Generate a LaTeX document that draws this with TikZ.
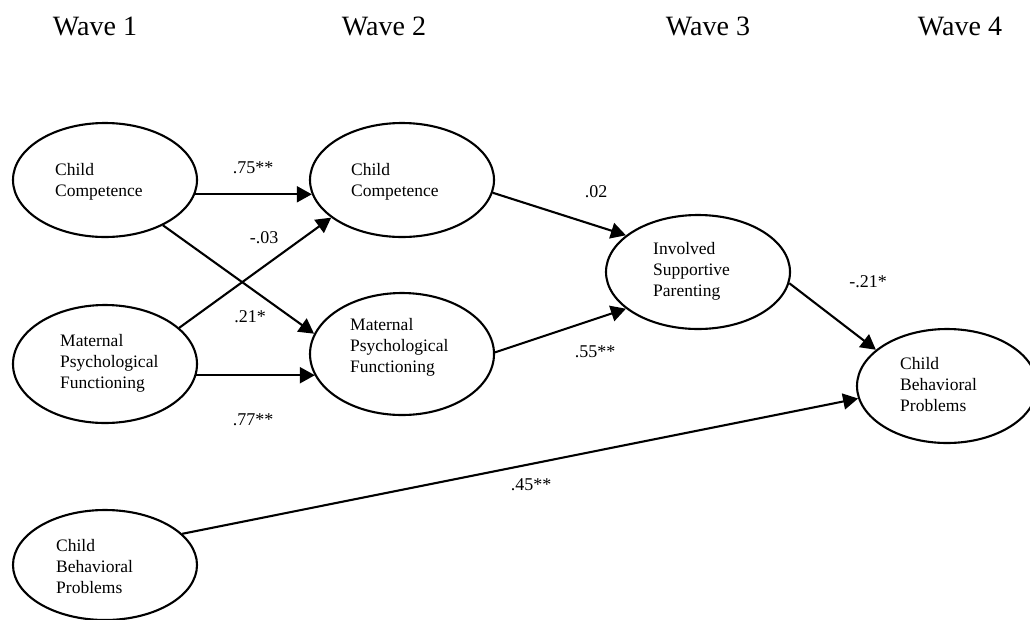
\documentclass[tikz,border=0pt]{standalone}
\usepackage{fontspec}
\setmainfont{Liberation Serif}
\usetikzlibrary{arrows.meta,shapes.geometric}

\tikzset{
  var/.style={ellipse, draw, line width=2.1pt, minimum width=184pt, minimum height=114pt, inner sep=0pt},
  vartext/.style={anchor=west, align=left, inner sep=0pt, font=\fontsize{17.5}{21}\selectfont},
  wave/.style={anchor=base, inner sep=0pt, font=\fontsize{28}{34}\selectfont},
  coef/.style={anchor=base, inner sep=0pt, font=\fontsize{18}{22}\selectfont},
  pathline/.style={line width=2.1pt, -{Triangle[length=15pt,width=16pt]}}
}

\begin{document}
\begin{tikzpicture}[x=1pt, y=-1pt]
\useasboundingbox (0,0) rectangle (1030,619);

% wave headings
\node[wave] (w1) at (95,35) {Wave 1};
\node[wave] (w2) at (384,35) {Wave 2};
\node[wave] (w3) at (708,35) {Wave 3};
\node[wave] (w4) at (960,35) {Wave 4};

% latent variables
\node[var] (cc1) at (105,180) {};
\node[var, minimum height=118pt] (mpf1) at (105,364) {};
\node[var, minimum height=110pt] (cbp1) at (105,565) {};
\node[var] (cc2) at (402,180) {};
\node[var, minimum height=122pt] (mpf2) at (402,354) {};
\node[var] (isp) at (698,272) {};
\node[var, minimum width=180pt] (cbp4) at (947,386) {};

% variable names
\node[vartext] (cc1t) at (55,182) {Child\\Competence};
\node[vartext] (mpf1t) at (60,363) {Maternal\\Psychological\\Functioning};
\node[vartext] (cbp1t) at (56,567) {Child\\Behavioral\\Problems};
\node[vartext] (cc2t) at (351,182) {Child\\Competence};
\node[vartext] (mpf2t) at (350,347) {Maternal\\Psychological\\Functioning};
\node[vartext] (ispt) at (653,271) {Involved\\Supportive\\Parenting};
\node[vartext] (cbp4t) at (900,385) {Child\\Behavioral\\Problems};

% paths
\draw[pathline] (cc1.-9) -- (cc1.-9 -| cc2.189);
\draw[pathline] (mpf1.-7.6) -- (mpf1.-7.6 -| mpf2.194);
\draw[pathline] (mpf1.26.6) -- (cc2.208);
\draw[pathline] (cc1.-38) -- (mpf2.167);
\draw[pathline] (cc2.-8) -- (isp.153);
\draw[pathline] (mpf2.1) -- (isp.207);
\draw[pathline] (isp.-7.5) -- (cbp4.153);
\draw[pathline] (cbp1.22) -- (cbp4.188);

% path coefficients
\node[coef] (l1) at (253,173) {.75**};
\node[coef] (l2) at (264,243) {-.03};
\node[coef] (l3) at (250,322) {.21*};
\node[coef] (l4) at (253,425) {.77**};
\node[coef] (l5) at (596,197) {.02};
\node[coef] (l6) at (595,357) {.55**};
\node[coef] (l7) at (868,287) {-.21*};
\node[coef] (l8) at (531,490) {.45**};
\end{tikzpicture}
\end{document}
